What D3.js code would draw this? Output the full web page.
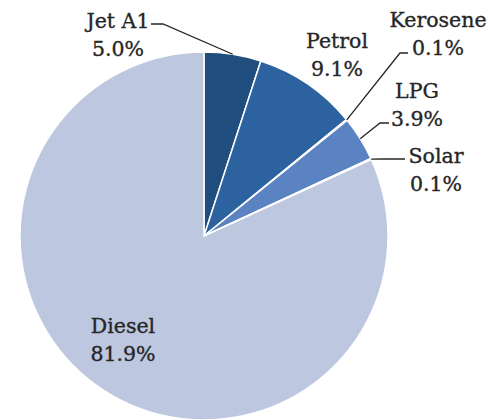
<!DOCTYPE html>
<head>
    <meta charset="utf-8">
</head>

<style type="text/css">
    body {
        margin: 0;
        background: #fff;
    }
    .slice {
        stroke: #fff;
        stroke-width: 1.5;
    }
    .label {
        font-family: "DejaVu Serif", serif;
        font-size: 20.5px;
        fill: #262626;
        stroke: #262626;
        stroke-width: 0.35;
        text-anchor: middle;
    }
    .leader {
        stroke: #262626;
        stroke-width: 1.3;
        fill: none;
    }
</style>

<body>
    <div class="chart"></div>
</body>

<script src="https://d3js.org/d3.v7.min.js"></script>

<script>

var fuels = ["Jet A1", "Petrol", "Kerosene", "LPG", "Solar", "Diesel"];
var shares = [5.0, 9.1, 0.1, 3.9, 0.1, 81.9];
var shareLabels = ["5.0%", "9.1%", "0.1%", "3.9%", "0.1%", "81.9%"];
var colours = ["#1f4e7e", "#2c62a0", "#3b6db0", "#5b83c2", "#8ea6d4", "#bdc7e0"];

var w = 488, h = 420;
var cx = 204, cy = 236, r = 184;

// where each label sits, and the leader elbow (if any)
var layout = {
    "Jet A1":   {x: 118, y: 28,  elbow: [163, 24], end: [151, 24]},
    "Petrol":   {x: 337, y: 48},
    "Kerosene": {x: 438, y: 27,  elbow: [400, 53], end: [408, 53]},
    "LPG":      {x: 417, y: 98,  elbow: [380, 123], end: [389, 123]},
    "Solar":    {x: 436, y: 163, elbow: [384, 159], end: [405, 159]},
    "Diesel":   {x: 123, y: 333}
};

var data = fuels.map(function(d, i) {
    return {name: d, value: shares[i], label: shareLabels[i], colour: colours[i]};
});

var svg = d3.select(".chart").append("svg")
    .attr("width", w)
    .attr("height", h);

var g = svg.append("g")
    .attr("transform", "translate(" + cx + "," + cy + ")");

var pie = d3.pie()
    .sort(null)
    .value(function(d) { return d.value; });

var arc = d3.arc().innerRadius(0).outerRadius(r);
var edgeArc = d3.arc().innerRadius(r).outerRadius(r);

var arcs = pie(data);

g.selectAll(".slice")
    .data(arcs)
    .enter()
    .append("path")
    .attr("class", "slice")
    .attr("fill", function(d) { return d.data.colour; })
    .attr("d", arc);

// leader lines
arcs.forEach(function(d) {
    var L = layout[d.data.name];
    if (!L.elbow) return;
    var p = edgeArc.centroid(d);
    var pts = [[p[0] + cx, p[1] + cy], L.elbow, L.end];
    svg.append("path")
        .attr("class", "leader")
        .attr("d", d3.line()(pts));
});

// labels
data.forEach(function(d) {
    var L = layout[d.name];
    var t = svg.append("text")
        .attr("class", "label")
        .attr("x", L.x)
        .attr("y", L.y);
    t.append("tspan").attr("x", L.x).text(d.name);
    t.append("tspan").attr("x", L.x).attr("dy", 28).text(d.label);
});

</script>
